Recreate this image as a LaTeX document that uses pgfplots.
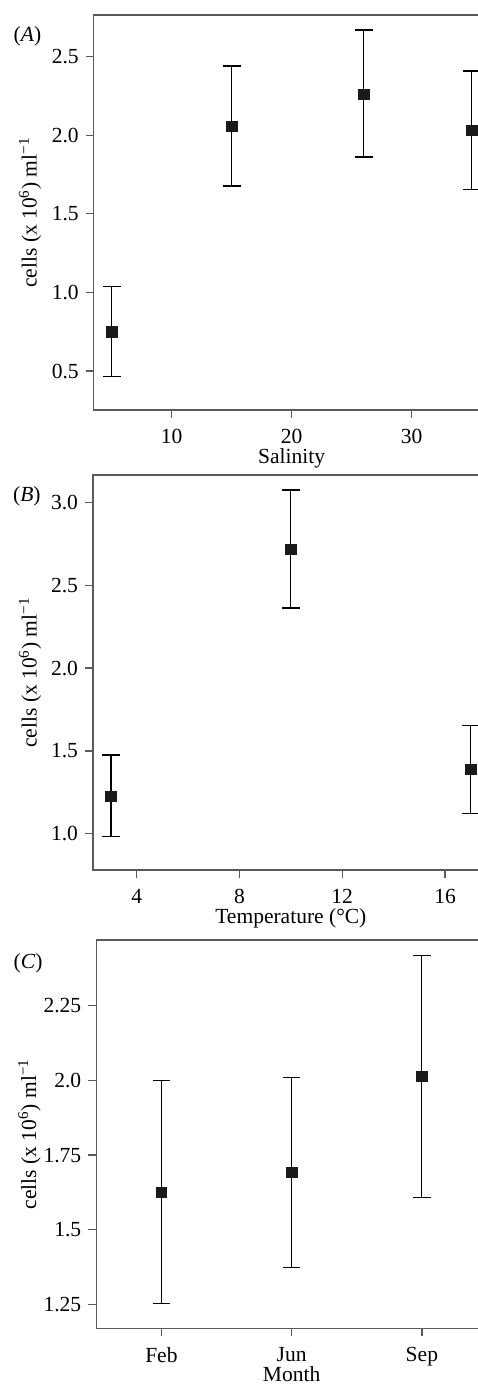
\documentclass[border=0pt]{standalone}
\usepackage{fontspec}
\setmainfont{Liberation Serif}
\usepackage{pgfplots}
\pgfplotsset{compat=1.18}
\definecolor{axgray}{HTML}{5A5A5A}
\definecolor{mk}{HTML}{1A1A1A}
\newcommand{\ylab}{cells (x 10\textsuperscript{6}) ml\textsuperscript{\symbol{"2212}1}}
\pgfplotsset{
  every axis/.append style={
    scale only axis,
    font=\fontsize{10.8}{13}\selectfont,
    axis line style={axgray, line width=0.65bp},
    tick style={axgray, line width=0.65bp},
    tick align=outside,
    tick pos=left,
    major tick length=4bp,
    /pgf/number format/assume math mode=true,
    clip=false,
    xticklabel style={yshift=-2bp},
    xlabel style={anchor=base, at={(axis description cs:0.5,0)}, yshift=-26.5bp},
  },
  mystyle/.style={
    only marks, mark=square*, mark size=2.6bp,
    mark options={fill=mk, draw=mk, line width=0.3bp},
    error bars/.cd, y dir=both, y explicit,
    error bar style={black, line width=0.6bp},
    error mark options={rotate=90, mark size=4.4bp, line width=0.6bp, black},
  },
}
\begin{document}
\begin{tikzpicture}
% Panel A
\begin{axis}[
  at={(46.85bp,-205bp)}, anchor=south west,
  width=198bp, height=197.5bp,
  xmin=3.5, xmax=36.5, ymin=0.252, ymax=2.765,
  xtick={10,20,30}, xticklabels={10,20,30},
  ytick={0.5,1.0,1.5,2.0,2.5}, yticklabels={0.5,1.0,1.5,2.0,2.5},
  xlabel={Salinity},
  ylabel={\ylab},
  ylabel style={anchor=base, at={(axis description cs:-0.1439,0.5)}},
]
\addplot+[mystyle] coordinates {
  (5,0.750)  += (0,0.289) -= (0,0.286)
  (15,2.057) += (0,0.384) -= (0,0.380)
  (26,2.262) += (0,0.408) -= (0,0.400)
  (35,2.031) += (0,0.378) -= (0,0.377)
};
\end{axis}
% Panel B
\begin{axis}[
  at={(46.5bp,-435bp)}, anchor=south west,
  width=197.85bp, height=197.5bp,
  xmin=2.3, xmax=17.7, ymin=0.781, ymax=3.165,
  xtick={4,8,12,16}, xticklabels={4,8,12,16},
  ytick={1.0,1.5,2.0,2.5,3.0}, yticklabels={1.0,1.5,2.0,2.5,3.0},
  xlabel={Temperature (°C)},
  ylabel={\ylab},
  ylabel style={anchor=base, at={(axis description cs:-0.1423,0.5)}},
]
\addplot+[mystyle] coordinates {
  (3,1.227)  += (0,0.248) -= (0,0.245)
  (10,2.716) += (0,0.358) -= (0,0.354)
  (17,1.388) += (0,0.264) -= (0,0.265)
};
\end{axis}
% Panel C
\begin{axis}[
  at={(48.15bp,-664.15bp)}, anchor=south west,
  width=195.35bp, height=194.15bp,
  xmin=-0.5, xmax=2.5, ymin=1.170, ymax=2.470,
  xtick={0,1,2}, xticklabels={Feb,Jun,Sep},
  ytick={1.25,1.5,1.75,2.0,2.25}, yticklabels={1.25,1.5,1.75,2.0,2.25},
  xlabel={Month},
  ylabel={\ylab},
  ylabel style={anchor=base, at={(axis description cs:-0.1543,0.5)}},
]
\addplot+[mystyle] coordinates {
  (0,1.625) += (0,0.376) -= (0,0.371)
  (1,1.692) += (0,0.319) -= (0,0.319)
  (2,2.013) += (0,0.404) -= (0,0.405)
};
\end{axis}
\node[anchor=base west, font=\fontsize{10.8}{13}\selectfont, inner sep=0pt] at (6.65bp,-20.85bp) {(\textit{A})};
\node[anchor=base west, font=\fontsize{10.8}{13}\selectfont, inner sep=0pt] at (6.35bp,-250.85bp) {(\textit{B})};
\node[anchor=base west, font=\fontsize{10.8}{13}\selectfont, inner sep=0pt] at (6.65bp,-484.15bp) {(\textit{C})};
\pgfresetboundingbox
\path (0,0) rectangle (239bp,-692.5bp);
\end{tikzpicture}
\end{document}
